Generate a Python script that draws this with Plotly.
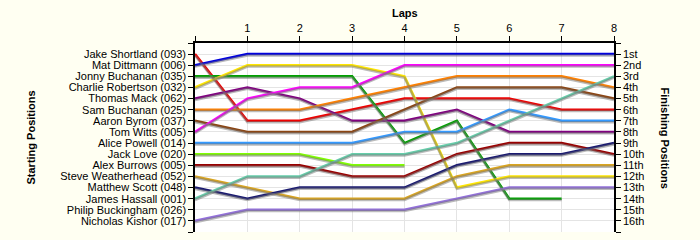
import plotly.graph_objects as go

laps = [0, 1, 2, 3, 4, 5, 6, 7, 8]
lap_labels = ["", "1", "2", "3", "4", "5", "6", "7", "8"]

start_names = [
    "Jake Shortland (093)", "Mat Dittmann (006)", "Jonny Buchanan (035)",
    "Charlie Robertson (032)", "Thomas Mack (062)", "Sam Buchanan (025)",
    "Aaron Byrom (037)", "Tom Witts (005)", "Alice Powell (014)",
    "Jack Love (020)", "Alex Burrows (005)", "Steve Weatherhead (052)",
    "Matthew Scott (048)", "James Hassall (001)", "Philip Buckingham (026)",
    "Nicholas Kishor (017)",
]
finish_labels = ["1st", "2nd", "3rd", "4th", "5th", "6th", "7th", "8th", "9th",
                 "10th", "11th", "12th", "13th", "14th", "15th", "16th"]

# position per lap (lap 0 = starting grid); None = retired
shortland = [1, 7, 7, 6, 5, 5, 5, 6, 6]
dittmann = [2, 1, 1, 1, 1, 1, 1, 1, 1]
jonny_buchanan = [3, 3, 3, 3, 9, 7, 14, 14, None]
robertson = [4, 2, 2, 2, 3, 13, 12, 12, 12]
mack = [5, 4, 5, 7, 7, 6, 8, 8, 8]
sam_buchanan = [6, 6, 6, 5, 4, 3, 3, 3, 4]
byrom = [7, 8, 8, 8, 6, 4, 4, 4, 5]
witts = [8, 5, 4, 4, 2, 2, 2, 2, 2]
powell = [9, 9, 9, 9, 8, 8, 6, 7, 7]
love = [10, 10, 10, 11, 11, None, None, None, None]
burrows = [11, 11, 11, 12, 12, 10, 9, 9, 10]
weatherhead = [12, 13, 14, 14, 14, 12, 11, 11, 11]
scott = [13, 14, 13, 13, 13, 11, 10, 10, 9]
hassall = [14, 12, 12, 10, 10, 9, 7, 5, 3]
kishor = [16, 15, 15, 15, 15, 14, 13, 13, 13]

series = [
    ("Jake Shortland", shortland, "#EE0000"),
    ("Mat Dittmann", dittmann, "#0000DD"),
    ("Jonny Buchanan", jonny_buchanan, "#00A000"),
    ("Charlie Robertson", robertson, "#FFE600"),
    ("Thomas Mack", mack, "#800080"),
    ("Sam Buchanan", sam_buchanan, "#FF8000"),
    ("Aaron Byrom", byrom, "#8B4513"),
    ("Tom Witts", witts, "#FF00FF"),
    ("Alice Powell", powell, "#3399FF"),
    ("Jack Love", love, "#80FF00"),
    ("Alex Burrows", burrows, "#990000"),
    ("Steve Weatherhead", weatherhead, "#DAA520"),
    ("Matthew Scott", scott, "#1A1A70"),
    ("James Hassall", hassall, "#66CDAA"),
    ("Nicholas Kishor", kishor, "#9370DB"),
]

fig = go.Figure()

# shadows (drawn on a slightly shifted overlay axis)
for name, vals, col in series:
    fig.add_trace(go.Scatter(x=laps, y=vals, mode="lines", yaxis="y3",
                             line=dict(color="rgba(120,120,120,0.5)", width=2.5),
                             hoverinfo="skip", showlegend=False, connectgaps=False))
for name, vals, col in series:
    fig.add_trace(go.Scatter(x=laps, y=vals, mode="lines", name=name,
                             line=dict(color=col, width=2.5),
                             showlegend=False, connectgaps=False))

# dummy trace to activate right axis
fig.add_trace(go.Scatter(x=[0], y=[1], yaxis="y2", mode="markers",
                         marker=dict(opacity=0), showlegend=False, hoverinfo="skip"))

tickvals_y = list(range(0, 18))
fam = "Liberation Sans, Arial, sans-serif"
font_tick = dict(family=fam, size=11, color="#000000")

fig.update_layout(
    width=700, height=240,
    margin=dict(l=195, r=86, t=43, b=8),
    paper_bgcolor="#FFFFF2",
    plot_bgcolor="#FFFFFF",
    xaxis=dict(range=[0, 8], side="top", tickvals=laps, ticktext=lap_labels,
               ticks="outside", ticklen=5, tickcolor="#000000",
               showline=True, linecolor="#000000", linewidth=1.5, mirror=False,
               showgrid=True, gridcolor="#E4E4E4", gridwidth=1,
               zeroline=False, tickfont=font_tick, automargin=False),
    yaxis=dict(range=[17, 0], tickvals=tickvals_y,
               ticktext=[""] + start_names + [""],
               ticks="outside", ticklen=5, tickcolor="#000000",
               showline=True, linecolor="#000000", linewidth=1.5,
               showgrid=True, gridcolor="#E4E4E4", gridwidth=1,
               zeroline=False, tickfont=font_tick, automargin=False),
    yaxis2=dict(range=[17, 0], overlaying="y", side="right", tickvals=tickvals_y,
                ticktext=[""] + finish_labels + [""],
                ticks="outside", ticklen=5, tickcolor="#000000",
                showline=True, linecolor="#000000", linewidth=1.5,
                showgrid=False, zeroline=False, tickfont=font_tick, automargin=False),
    yaxis3=dict(range=[17 - 0.12, -0.12], overlaying="y", visible=False,
                showgrid=False, zeroline=False, automargin=False),
    annotations=[
        dict(text="<b>Laps</b>", xref="paper", yref="paper", x=0.5, y=1.0,
             yanchor="middle", yshift=30, showarrow=False,
             font=dict(family=fam, size=11, color="#000000")),
        dict(text="<b>Starting Positions</b>", xref="paper", yref="paper",
             x=0, xanchor="center", xshift=-165, y=0.5, yanchor="middle",
             textangle=-90, showarrow=False,
             font=dict(family=fam, size=11, color="#000000")),
        dict(text="<b>Finishing Positions</b>", xref="paper", yref="paper",
             x=1, xanchor="center", xshift=51, y=0.5, yanchor="middle",
             textangle=90, showarrow=False,
             font=dict(family=fam, size=11, color="#000000")),
    ],
)

fig.write_html("out.html",
               config={"displayModeBar": False},
               post_script="document.body.style.margin='0px';"
                           "document.body.style.background='#FFFFF2';")
